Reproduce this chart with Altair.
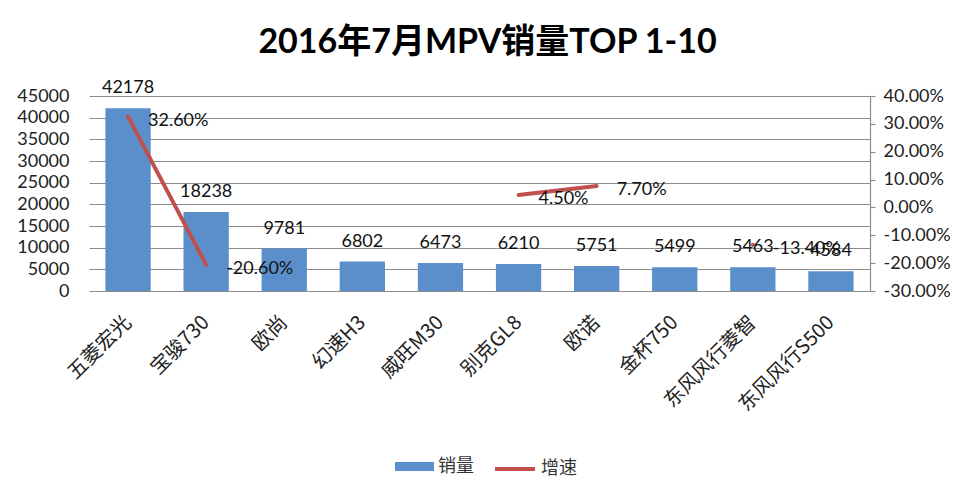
import altair as alt
import pandas as pd

# ---- data ----
models = ["五菱宏光", "宝骏730", "欧尚", "幻速H3", "威旺M30",
          "别克GL8", "欧诺", "金杯750", "东风风行菱智", "东风风行S500"]
sales = [42178, 18238, 9781, 6802, 6473, 6210, 5751, 5499, 5463, 4584]
growth = [0.326, -0.206, None, None, None, 0.045, 0.077, None, -0.134, None]
sales_ticks = list(range(0, 45001, 5000))
growth_ticks = [-0.3, -0.2, -0.1, 0.0, 0.1, 0.2, 0.3, 0.4]

BLUE = "#5B8FCB"
RED = "#C0504D"
GRID = "#8c8c8c"
NUM_FONT = "Lato"
CJK_FONT = "Noto Sans CJK SC"
NUM_SIZE = 18

df = pd.DataFrame({"车型": models, "销量": sales, "增速": growth})
df["段"] = df["增速"].isna().cumsum()   # break the growth line at missing values
df["s1"] = "销量"
df["s2"] = "增速"

PCT_EXPR = "replace(format(datum.value, '.2%'), '\u2212', '-')"

x_enc = alt.X(
    "车型:N", sort=models, title=None,
    scale=alt.Scale(paddingInner=0.42, paddingOuter=0.21),
    axis=alt.Axis(labelAngle=-45, labelAlign="right", labelBaseline="middle",
                  labelFont=CJK_FONT, labelFontSize=20, labelColor="#222",
                  labelPadding=28, ticks=False, domain=False, labelLimit=300),
)

left_axis = alt.Axis(values=sales_ticks, format="d", grid=True,
                     gridColor=GRID, gridWidth=1.2, domain=False,
                     ticks=False, labelFont=NUM_FONT, labelFontSize=NUM_SIZE,
                     labelColor="#222", labelPadding=20,
                     minExtent=60, maxExtent=60, title=None)
left_scale = alt.Scale(domain=[0, 45000], nice=False)

right_axis = alt.Axis(orient="right", values=growth_ticks, labelExpr=PCT_EXPR,
                      grid=False, domain=True, domainColor=GRID,
                      domainWidth=1.2, ticks=True, tickColor=GRID,
                      tickWidth=1.2, tickSize=5, labelFont=NUM_FONT,
                      labelFontSize=NUM_SIZE, labelColor="#222", labelPadding=8,
                      title=None)
right_scale = alt.Scale(domain=[-0.3, 0.4], nice=False)

base = alt.Chart(df)

bars = base.mark_bar(color=BLUE).encode(
    x=x_enc,
    y=alt.Y("销量:Q", title=None, scale=left_scale, axis=left_axis),
    fill=alt.Fill("s1:N", title=None,
                  scale=alt.Scale(domain=["销量"], range=[BLUE]),
                  legend=alt.Legend(orient="none", legendX=306, legendY=351,
                                    symbolType="M-1,-0.23H1V0.23H-1Z",
                                    symbolSize=1521, symbolStrokeWidth=0,
                                    labelFont=CJK_FONT, labelFontSize=18,
                                    labelColor="#333", labelOffset=4,
                                    padding=0)),
)

bar_text = base.mark_text(baseline="alphabetic", dy=-15, font=NUM_FONT,
                          fontSize=NUM_SIZE, color="#111").encode(
    x=alt.X("车型:N", sort=models, title=None),
    y=alt.Y("销量:Q", title=None, scale=left_scale, axis=left_axis),
    text=alt.Text("销量:Q", format="d"),
)

left = alt.layer(bars, bar_text)

line = base.transform_filter("isValid(datum['增速'])").mark_line(
    color=RED, strokeWidth=4, strokeCap="round").encode(
    x=alt.X("车型:N", sort=models, title=None),
    y=alt.Y("增速:Q", title=None, scale=right_scale, axis=right_axis),
    detail="段:N",
    stroke=alt.Stroke("s2:N", title=None,
                      scale=alt.Scale(domain=["增速"], range=[RED]),
                      legend=alt.Legend(orient="none", legendX=404, legendY=351,
                                        symbolType="stroke", symbolSize=1600,
                                        symbolStrokeWidth=4,
                                        labelFont=CJK_FONT, labelFontSize=18,
                                        labelColor="#333", labelOffset=4,
                                        padding=0)),
)

line_text = base.transform_filter("isValid(datum['增速'])").transform_calculate(
    lbl="replace(format(datum['增速'], '.2%'), '\u2212', '-')"
).mark_text(
    align="left", baseline="middle", dx=20, dy=4, font=NUM_FONT,
    fontSize=NUM_SIZE, color="#111").encode(
    x=alt.X("车型:N", sort=models, title=None),
    y=alt.Y("增速:Q", title=None, scale=right_scale, axis=right_axis),
    text="lbl:N",
)

right = alt.layer(line, line_text)

chart = alt.layer(left, right).resolve_scale(
    y="independent", fill="independent", stroke="independent"
).properties(
    width=781,
    height=195,
    padding={"left": 8, "top": 18, "right": 5, "bottom": 5},
    title=alt.Title("2016年7月MPV销量TOP 1-10", fontSize=34, fontWeight="bold",
                    font="Lato, Noto Sans CJK SC", color="#000",
                    anchor="middle", offset=19, dx=8),
).configure(background="white").configure_view(stroke="transparent")

chart.save("out.html", embed_options={"renderer": "svg", "actions": False})
